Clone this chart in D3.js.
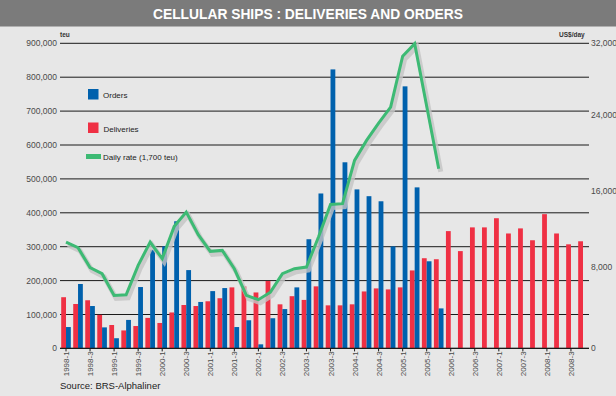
<!DOCTYPE html>
<html>
<head>
<meta charset="utf-8">
<script src="https://cdn.jsdelivr.net/npm/d3@7"></script>
<style>
  body { margin: 0; background: #e7e7e7; }
  svg { display: block; font-family: "Liberation Sans", Arial, sans-serif; }
</style>
</head>
<body>
<div id="chart"></div>
<script>
// quarters 1998-1 .. 2008-4
const quarters = [];
for (let yr = 1998; yr <= 2008; yr++) for (let q = 1; q <= 4; q++) quarters.push(`${yr}-${q}`);
const tickLabels = quarters.filter((d, i) => i % 2 === 0);

// teu, deliveries per quarter
const deliveries = [151000, 131000, 142000, 99000, 69000, 53000, 66000, 90000, 75000, 106000, 128000, 125000,
  139000, 148000, 180000, 183000, 165000, 199000, 130000, 154000, 143000, 183000, 127000, 127000,
  130000, 168000, 177000, 174000, 180000, 230000, 266000, 263000, 346000, 287000, 357000, 357000,
  384000, 339000, 354000, 319000, 396000, 339000, 307000, 316000];
// teu, orders per quarter (to 2005-4)
const orders = [63000, 190000, 125000, 62000, 30000, 84000, 181000, 291000, 301000, 375000, 231000, 137000,
  169000, 178000, 63000, 83000, 12000, 89000, 116000, 180000, 322000, 457000, 823000, 549000,
  469000, 449000, 434000, 301000, 773000, 475000, 257000, 118000];
// US$/day, 1,700 teu daily rate (to 2005-4)
const dailyRate = [11150, 10560, 8470, 7840, 5560, 5630, 8710, 11150, 9410, 12800, 14300, 11930,
  10180, 10280, 8350, 5560, 5110, 5900, 7840, 8360, 8530, 11680, 15100, 15180,
  19720, 21820, 23630, 25300, 30650, 31960, 25400, 18850];
const leftTicks = d3.range(0, 900001, 100000);
const rightTicks = [0, 8000, 16000, 24000, 32000];

const W = 616, H = 396;
const mLeft = 60, mRight = 589, mTop = 43.3, mBottom = 348.4;
const blue = '#0061ad', red = '#ef3044', green = '#3dba74';

const svg = d3.select('#chart').append('svg').attr('width', W).attr('height', H);
svg.append('rect').attr('width', W).attr('height', H).attr('fill', '#e7e7e7');

// title bar
svg.append('rect').attr('width', W).attr('height', 26.5).attr('fill', '#7b7b7b');
svg.append('text').attr('x', W / 2).attr('y', 19).attr('text-anchor', 'middle')
  .attr('fill', '#fff').attr('font-size', 15).attr('font-weight', 'bold')
  .attr('textLength', 310).attr('lengthAdjust', 'spacingAndGlyphs')
  .text('CELLULAR SHIPS : DELIVERIES AND ORDERS');

const x = d3.scaleBand().domain(quarters).range([mLeft, mRight]).paddingInner(0.2).paddingOuter(0.1);
const xs = d3.scaleBand().domain(['deliveries', 'orders']).range([0, x.bandwidth()]);
const y = d3.scaleLinear().domain([0, 900000]).range([mBottom, mTop]);
const y2 = d3.scaleLinear().domain([0, 32000]).range([mBottom, mTop]);
const cx = d => x(d) + x.bandwidth() / 2;

// gridlines + axis labels
const fmt = d3.format(',');
svg.append('g').selectAll('line').data(leftTicks).join('line')
  .attr('x1', mLeft).attr('x2', mRight)
  .attr('y1', d => y(d)).attr('y2', d => y(d))
  .attr('stroke', '#1a1a1a').attr('stroke-width', 1);
svg.append('g').selectAll('text').data(leftTicks).join('text')
  .attr('x', 57).attr('y', d => y(d) + 3).attr('text-anchor', 'end')
  .attr('font-size', 8.5).attr('fill', '#4a4a4a').text(d => fmt(d));
// right labels sit a little above their level in the original
svg.append('g').selectAll('text').data(rightTicks).join('text')
  .attr('x', 591).attr('y', d => y2(d) + 2.5 - (d > 0 && d < 32000 ? 4.5 : 0))
  .attr('font-size', 8.5).attr('fill', '#4a4a4a').text(d => fmt(d));
svg.append('text').attr('x', 60).attr('y', 37).attr('font-size', 6.5).attr('font-weight', 'bold').attr('fill', '#333').text('teu');
svg.append('text').attr('x', 559).attr('y', 37).attr('font-size', 6.5).attr('font-weight', 'bold').attr('fill', '#333').text('US$/day');

// bars
svg.append('g').selectAll('rect').data(deliveries).join('rect')
  .attr('x', (d, i) => x(quarters[i]) + xs('deliveries'))
  .attr('width', xs.bandwidth())
  .attr('y', d => y(d)).attr('height', d => mBottom - y(d))
  .attr('fill', red);
svg.append('g').selectAll('rect').data(orders).join('rect')
  .attr('x', (d, i) => x(quarters[i]) + xs('orders'))
  .attr('width', xs.bandwidth())
  .attr('y', d => y(d)).attr('height', d => mBottom - y(d))
  .attr('fill', blue);

// x axis
svg.append('line').attr('x1', mLeft).attr('x2', mRight).attr('y1', mBottom).attr('y2', mBottom)
  .attr('stroke', '#1a1a1a').attr('stroke-width', 1.3);
svg.append('g').selectAll('line').data(tickLabels).join('line')
  .attr('x1', d => cx(d)).attr('x2', d => cx(d)).attr('y1', mBottom).attr('y2', mBottom + 3)
  .attr('stroke', '#1a1a1a');
svg.append('g').selectAll('text').data(tickLabels).join('text')
  .attr('transform', d => `translate(${cx(d) + 3},${mBottom + 3}) rotate(-90)`)
  .attr('text-anchor', 'end').attr('font-size', 8).attr('fill', '#4a4a4a').text(d => d);

// daily rate line with shadow
const line = d3.line().x((d, i) => cx(quarters[i])).y(d => y2(d));
svg.append('path').datum(dailyRate).attr('d', line)
  .attr('transform', 'translate(2,3)')
  .attr('fill', 'none').attr('stroke', '#c4c4c4').attr('stroke-width', 5).attr('opacity', 0.8);
svg.append('path').datum(dailyRate).attr('d', line)
  .attr('fill', 'none').attr('stroke', green).attr('stroke-width', 3).attr('stroke-linejoin', 'miter');

// legend
const legend = svg.append('g').attr('font-size', 8).attr('fill', '#222');
legend.append('rect').attr('x', 88).attr('y', 89).attr('width', 10.5).attr('height', 10.5).attr('fill', blue);
legend.append('text').attr('x', 103).attr('y', 98).text('Orders');
legend.append('rect').attr('x', 88).attr('y', 122.5).attr('width', 10.5).attr('height', 10.5).attr('fill', red);
legend.append('text').attr('x', 103.5).attr('y', 131.5).text('Deliveries');
legend.append('rect').attr('x', 86).attr('y', 154).attr('width', 15).attr('height', 5).attr('fill', green);
legend.append('text').attr('x', 103).attr('y', 160).text('Daily rate (1,700 teu)');

svg.append('text').attr('x', 60).attr('y', 389).attr('font-size', 9.5).attr('fill', '#222')
  .text('Source: BRS-Alphaliner');
</script>
</body>
</html>
